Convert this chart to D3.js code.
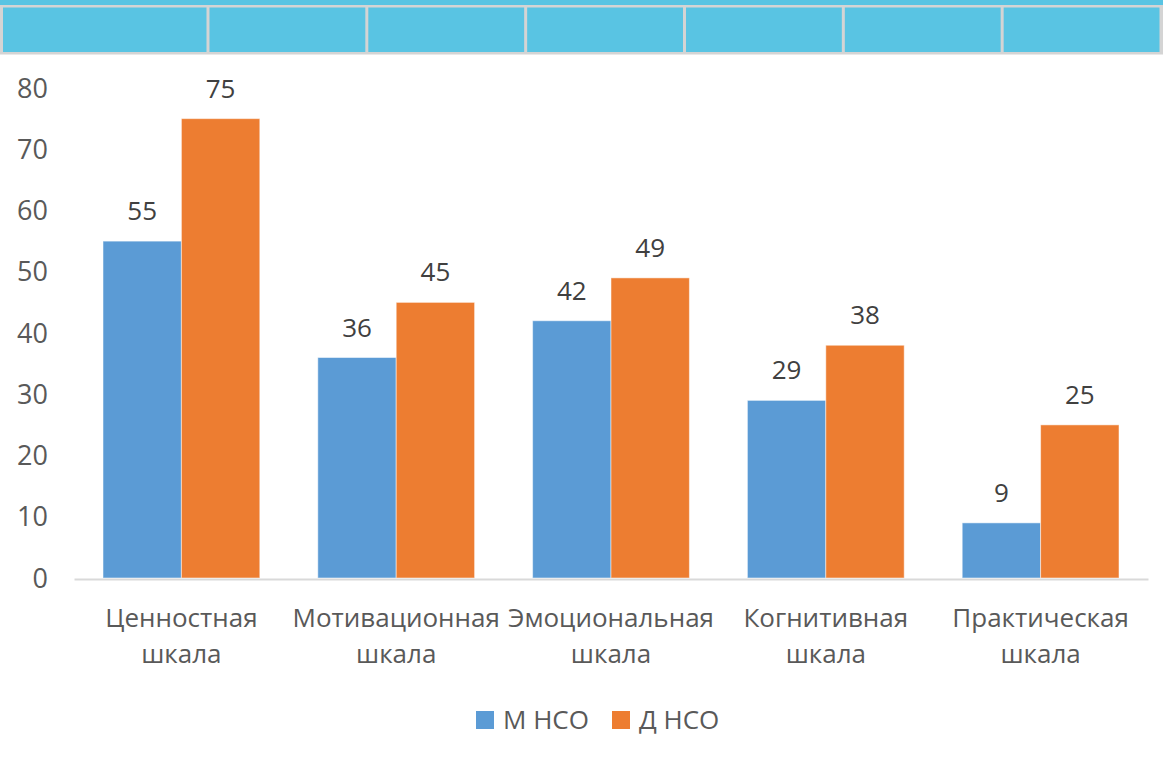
<!DOCTYPE html>
<html>
<head>
<meta charset="utf-8">
<script src="https://cdn.jsdelivr.net/npm/d3@7"></script>
<style>
  html, body { margin: 0; padding: 0; background: #fff; }
  svg { display: block; font-family: "Open Sans", "Noto Sans", sans-serif; }
</style>
</head>
<body>
<svg id="chart" width="1163" height="765"></svg>
<script>
// ---- data ----
const categories = [["Ценностная", "шкала"], ["Мотивационная", "шкала"], ["Эмоциональная", "шкала"], ["Когнитивная", "шкала"], ["Практическая", "шкала"]];
const seriesNames = ["М НСО", "Д НСО"];
const seriesM = [55, 36, 42, 29, 9];
const seriesD = [75, 45, 49, 38, 25];
const yTicks = [0, 10, 20, 30, 40, 50, 60, 70, 80];
const headerColumnShares = [1.3, 1, 1, 1, 1, 1, 1];

const colors = ["#5b9bd5", "#ed7d31"];
const svg = d3.select("#chart");
const W = 1163;

// ---- header band (table strip at top) ----
const cum = [0];
headerColumnShares.forEach(s => cum.push(cum[cum.length - 1] + s));
const hx = d3.scaleLinear().domain([0, cum[cum.length - 1]]).range([1.5, 1161]);
svg.append("rect").attr("x", 0).attr("y", 0).attr("width", W).attr("height", 54.5).attr("fill", "#d4d4d4");
svg.append("rect").attr("x", 0).attr("y", 0).attr("width", W).attr("height", 5).attr("fill", "#58c4e3");
svg.selectAll("rect.cell").data(headerColumnShares.map((s, i) => [cum[i], cum[i + 1]])).join("rect")
  .attr("class", "cell")
  .attr("x", d => hx(d[0]) + 1.5)
  .attr("y", 7.5)
  .attr("width", d => hx(d[1]) - hx(d[0]) - 3)
  .attr("height", 44.5)
  .attr("fill", "#59c4e3");

// ---- scales ----
const x0 = d3.scaleBand().domain(d3.range(categories.length)).range([74, 1148]).paddingInner(0.27).paddingOuter(0.135);
const x1 = d3.scaleBand().domain([0, 1]).range([0, x0.bandwidth()]);
const y = d3.scaleLinear().domain([0, 80]).range([578, 88]);

// ---- y axis labels ----
const yAxis = d3.axisLeft(y).tickValues(yTicks).tickSize(0).tickPadding(0);
const yg = svg.append("g").attr("transform", "translate(48,0)").call(yAxis);
yg.select(".domain").remove();
yg.selectAll("text").attr("font-size", 27).attr("fill", "#595959").attr("font-family", "'Open Sans', sans-serif").attr("dy", "0.34em");

// ---- bars ----
const data = categories.map((c, i) => ({ i, vals: [seriesM[i], seriesD[i]] }));
const groups = svg.selectAll("g.grp").data(data).join("g")
  .attr("class", "grp")
  .attr("transform", d => `translate(${x0(d.i)},0)`);

groups.selectAll("rect").data(d => d.vals.map((v, s) => ({ v, s }))).join("rect")
  .attr("x", d => x1(d.s))
  .attr("y", d => y(d.v))
  .attr("width", x1.bandwidth())
  .attr("height", d => y(0) - y(d.v))
  .attr("fill", d => colors[d.s])
  .attr("stroke", "#fff")
  .attr("stroke-opacity", 0.5)
  .attr("stroke-width", 1);

groups.selectAll("text.lbl").data(d => d.vals.map((v, s) => ({ v, s }))).join("text")
  .attr("class", "lbl")
  .attr("x", d => x1(d.s) + x1.bandwidth() / 2)
  .attr("y", d => y(d.v) - 21)
  .attr("text-anchor", "middle")
  .attr("font-size", 26)
  .attr("fill", "#404040")
  .text(d => d.v);

// ---- x axis ----
const xAxis = d3.axisBottom(x0).tickSize(0).tickFormat("");
const xg = svg.append("g").attr("transform", `translate(0,${y(0) + 1})`).call(xAxis);
xg.select(".domain").attr("stroke", "#d9d9d9").attr("stroke-width", 2);

const catLbl = svg.selectAll("text.cat").data(categories).join("text")
  .attr("class", "cat")
  .attr("text-anchor", "middle")
  .attr("font-size", 26)
  .attr("fill", "#595959")
  .attr("x", (d, i) => x0(i) + x0.bandwidth() / 2)
  .attr("y", 627);
catLbl.selectAll("tspan").data(d => d).join("tspan")
  .attr("x", function () { return d3.select(this.parentNode).attr("x"); })
  .attr("dy", (d, j) => j === 0 ? 0 : 36)
  .text(d => d);

// ---- legend ----
const legend = svg.append("g").attr("transform", "translate(476,711)");
const legendX = d3.scaleOrdinal().domain(seriesNames).range([0, 136]);
const li = legend.selectAll("g").data(seriesNames).join("g")
  .attr("transform", d => `translate(${legendX(d)},0)`);
li.append("rect").attr("width", 18).attr("height", 18).attr("fill", (d, i) => colors[i]);
li.append("text").attr("x", 27).attr("y", 18).attr("font-size", 26).attr("fill", "#595959").text(d => d);
</script>
</body>
</html>
